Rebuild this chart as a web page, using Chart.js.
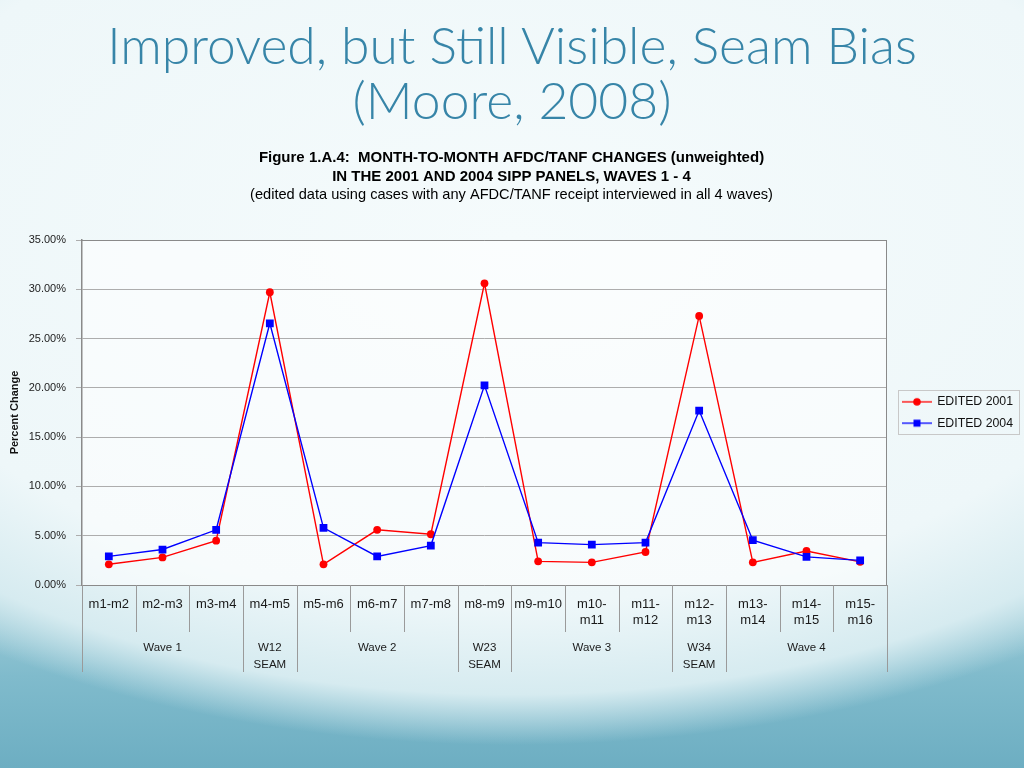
<!DOCTYPE html>
<html><head><meta charset="utf-8">
<script src="https://cdn.jsdelivr.net/npm/chart.js@4.4.0/dist/chart.umd.min.js"></script>
<style>
html,body{margin:0;padding:0;width:1024px;height:768px;overflow:hidden;}
body{background:
 radial-gradient(ellipse 900px 505px at 512px 240px, #f5fbfc 0%, #eef7f9 72%, #d6ebf0 90%, rgba(200,228,235,0) 100%),
 linear-gradient(to bottom, #cfe7ed 0%, #b8dae2 70%, #80bbcc 88%, #6daec2 100%);
 font-family: Lato, sans-serif;}
#title{position:absolute;left:0;top:17px;width:1024px;text-align:center;color:#3785a8;font-size:51.6px;line-height:55px;font-weight:300;}
#wrap{position:absolute;left:0;top:140px;width:1024px;height:550px;}
</style></head>
<body>
<div id="title">Improved, but Still Visible, Seam Bias<br>(Moore, 2008)</div>
<div id="wrap"><canvas id="c" width="1024" height="550"></canvas></div>
<script>
const categories = ['m1-m2','m2-m3','m3-m4','m4-m5','m5-m6','m6-m7','m7-m8','m8-m9','m9-m10',['m10-','m11'],['m11-','m12'],['m12-','m13'],['m13-','m14'],['m14-','m15'],['m15-','m16']];
const groupLabels = ['', 'Wave 1', '', ['W12','SEAM'], '', 'Wave 2', '', ['W23','SEAM'], '', 'Wave 3', '', ['W34','SEAM'], '', 'Wave 4', ''];
const groupBoundaries = [0, 3, 4, 7, 8, 11, 12, 15];
const edited2001 = [2.1, 2.8, 4.5, 29.7, 2.1, 5.6, 5.15, 30.6, 2.4, 2.3, 3.35, 27.3, 2.3, 3.45, 2.35];
const edited2004 = [2.9, 3.6, 5.6, 26.55, 5.8, 2.9, 4.0, 20.25, 4.3, 4.1, 4.3, 17.7, 4.55, 2.85, 2.5];
const yTicks = [0, 5, 10, 15, 20, 25, 30, 35];

const FONT = "'Liberation Sans', Arial, sans-serif";
const NARROW = "'Liberation Sans Narrow', 'Arial Narrow', 'Liberation Sans', Arial, sans-serif";

function legendIcon(color, shape){
  const c = document.createElement('canvas'); c.width = 30; c.height = 10;
  const g = c.getContext('2d');
  g.strokeStyle = color; g.lineWidth = 1.3;
  g.beginPath(); g.moveTo(0,5); g.lineTo(30,5); g.stroke();
  g.fillStyle = color;
  if (shape === 'circle'){ g.beginPath(); g.arc(15,5,3.8,0,Math.PI*2); g.fill(); }
  else { g.fillRect(11.5,1.5,7,7); }
  return c;
}
const icons = [legendIcon('#ff0000','circle'), legendIcon('#0000ff','rect')];

const areaPlugin = {
  id: 'areaPlugin',
  beforeDraw(chart){
    const {ctx, chartArea:a} = chart;
    ctx.save(); ctx.fillStyle = 'rgba(255,255,255,0.55)';
    ctx.fillRect(a.left, a.top, a.right-a.left, a.bottom-a.top); ctx.restore();
  },
  afterDraw(chart){
    const {ctx, chartArea:a} = chart;
    ctx.save(); ctx.strokeStyle = '#8a8a8a'; ctx.lineWidth = 1;
    ctx.beginPath(); ctx.moveTo(a.left, Math.round(a.top)+0.5); ctx.lineTo(a.right, Math.round(a.top)+0.5); ctx.stroke();
    // category separators on the axis area
    const xs = chart.scales.x;
    const n = categories.length;
    const step = xs.getPixelForValue(1) - xs.getPixelForValue(0);
    ctx.strokeStyle = '#9a9a9a';
    for (let i = 0; i <= n; i++){
      const px = i === 0 ? xs.left : (i === n ? xs.right : xs.getPixelForValue(i) - step / 2);
      const isGroup = groupBoundaries.includes(i);
      const x = Math.round(px) + 0.5;
      ctx.beginPath(); ctx.moveTo(x, a.bottom); ctx.lineTo(x, isGroup ? xs.bottom + 40 : xs.bottom); ctx.stroke();
    }
    const hb = chart.legend.legendHitBoxes;
    if (hb && hb.length){
      let l = Infinity, t = Infinity, r = -Infinity, b = -Infinity;
      hb.forEach(h => { l = Math.min(l,h.left); t = Math.min(t,h.top); r = Math.max(r,h.left+h.width); b = Math.max(b,h.top+h.height); });
      ctx.strokeStyle = '#c8c8c8';
      ctx.strokeRect(Math.round(l-5)+0.5, Math.round(t-6)+0.5, Math.round(r-l+11), Math.round(b-t+10));
    }
    ctx.restore();
  }
};

new Chart(document.getElementById('c'), {
  type: 'line',
  data: {
    labels: categories,
    datasets: [
      {label: 'EDITED 2001', data: edited2001, borderColor: '#ff0000', backgroundColor: '#ff0000', borderWidth: 1.4,
       pointStyle: 'circle', pointRadius: 3.9, pointBorderWidth: 0, tension: 0, order: 2},
      {label: 'EDITED 2004', data: edited2004, borderColor: '#0000ff', backgroundColor: '#0000ff', borderWidth: 1.4,
       pointStyle: 'rect', pointRadius: 5.5, pointBorderWidth: 0, tension: 0, order: 1}
    ]
  },
  options: {
    responsive: false, animation: false,
    layout: {padding: {left: 0, right: 1, top: 0, bottom: 0}},
    plugins: {
      title: {display: true, text: ['Figure 1.A.4:  MONTH-TO-MONTH AFDC/TANF CHANGES (unweighted)', 'IN THE 2001 AND 2004 SIPP PANELS, WAVES 1 - 4'],
        color: '#000', font: {family: NARROW, size: 15, weight: 'bold', lineHeight: 19/15}, padding: {top: 8.5, bottom: 0}},
      subtitle: {display: true, text: '(edited data using cases with any AFDC/TANF receipt interviewed in all 4 waves)',
        color: '#000', font: {family: NARROW, size: 14.6, weight: 'normal', lineHeight: 17/14.6}, padding: {top: 0, bottom: 36.5}},
      legend: {display: true, position: 'right', fullSize: false, align: 'center',
        labels: {usePointStyle: true, pointStyleWidth: 28, color: '#111', padding: 9, font: {family: FONT, size: 12.3},
          sort: (a,b) => a.datasetIndex - b.datasetIndex,
          generateLabels(chart){
            const items = Chart.defaults.plugins.legend.labels.generateLabels(chart);
            items.forEach(it => { it.pointStyle = icons[it.datasetIndex]; });
            return items;
          }}},
      tooltip: {enabled: false}
    },
    scales: {
      x: {type: 'category', position: 'bottom', offset: true,
        afterFit(scale){ scale.height = 47; },
        grid: {offset: true, drawOnChartArea: false, drawTicks: false, display: false},
        border: {display: true, color: '#8a8a8a', width: 1},
        ticks: {autoSkip: false, maxRotation: 0, minRotation: 0, padding: 10.5, color: '#1a1a1a',
          font: {family: FONT, size: 13, lineHeight: 1.3}}},
      x2: {type: 'category', position: 'bottom', offset: true, labels: groupLabels,
        afterFit(scale){ scale.height = 58; },
        grid: {display: false, drawOnChartArea: false, drawTicks: false},
        border: {display: false},
        ticks: {autoSkip: false, maxRotation: 0, minRotation: 0, padding: 7.5, color: '#1a1a1a',
          font: {family: FONT, size: 11.5, lineHeight: 17/11.5}}},
      y: {type: 'linear', position: 'left', min: 0, max: 35,
        afterFit(scale){ scale.width = 82; },
        afterBuildTicks(scale){ scale.ticks = yTicks.map(v => ({value: v})); },
        grid: {color: '#adadad', lineWidth: 1, drawTicks: true, tickLength: 6},
        border: {display: true, color: '#8a8a8a', width: 1.5},
        ticks: {padding: 10, color: '#222', font: {family: FONT, size: 11}, callback: v => v.toFixed(2) + '%'},
        title: {display: true, text: 'Percent Change', color: '#111', font: {family: FONT, size: 11, weight: 'bold'}, padding: {top: 8, bottom: 0}}},
      yR: {type: 'linear', position: 'right', display: true,
        afterFit(scale){ scale.width = 7; },
        grid: {display: false, drawTicks: false}, ticks: {display: false},
        border: {display: true, color: '#8a8a8a', width: 1}}
    }
  },
  plugins: [areaPlugin]
});
</script>
</body></html>
